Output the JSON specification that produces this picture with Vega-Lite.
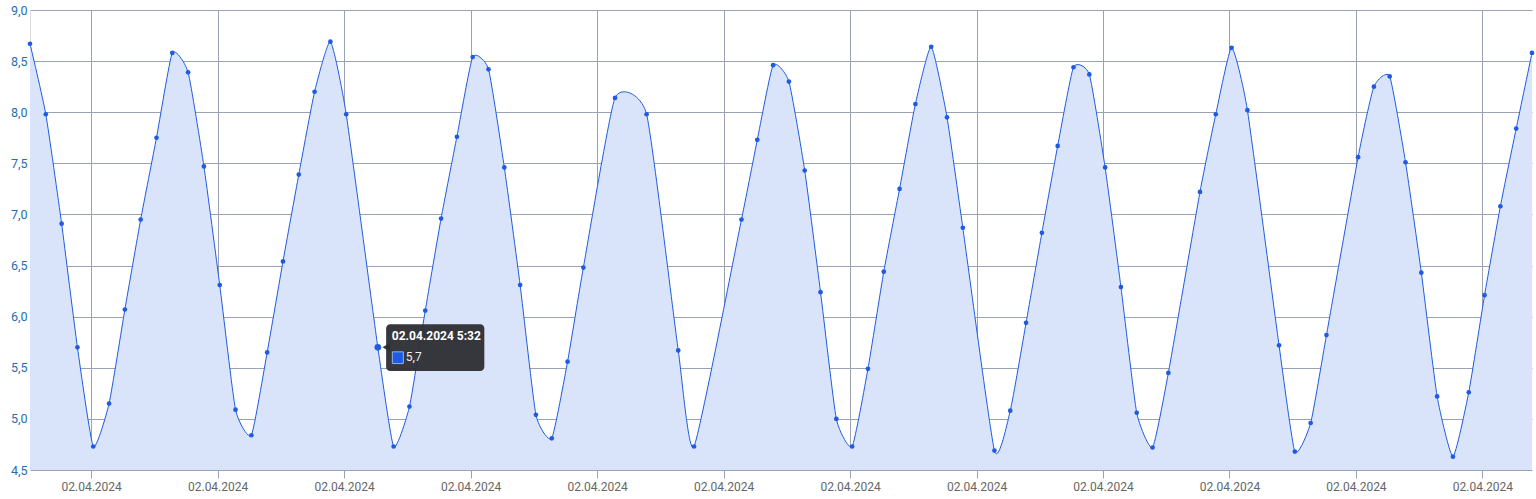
{
  "$schema": "https://vega.github.io/schema/vega-lite/v6.json",
  "width": 1502,
  "height": 460,
  "autosize": {"type": "none"},
  "padding": {"left": 30, "top": 10, "right": 4, "bottom": 29},
  "background": "#ffffff",
  "config": {
    "view": {"stroke": null},
    "font": "Roboto",
    "locale": {
      "number": {"decimal": ",", "thousands": ".", "grouping": [3], "currency": ["", " €"]},
      "time": {
        "dateTime": "%A, %e. %B %Y, %X", "date": "%d.%m.%Y", "time": "%H:%M:%S",
        "periods": ["AM", "PM"],
        "days": ["Sonntag", "Montag", "Dienstag", "Mittwoch", "Donnerstag", "Freitag", "Samstag"],
        "shortDays": ["So", "Mo", "Di", "Mi", "Do", "Fr", "Sa"],
        "months": ["Januar", "Februar", "März", "April", "Mai", "Juni", "Juli", "August", "September", "Oktober", "November", "Dezember"],
        "shortMonths": ["Jan", "Feb", "Mrz", "Apr", "Mai", "Jun", "Jul", "Aug", "Sep", "Okt", "Nov", "Dez"]
      }
    }
  },
  "datasets": {
    "series": [
      {"time": "2024-04-02T00:02:00", "value": 8.67},
      {"time": "2024-04-02T00:17:00", "value": 7.98},
      {"time": "2024-04-02T00:32:00", "value": 6.91},
      {"time": "2024-04-02T00:47:00", "value": 5.70},
      {"time": "2024-04-02T01:02:00", "value": 4.73},
      {"time": "2024-04-02T01:17:00", "value": 5.15},
      {"time": "2024-04-02T01:32:00", "value": 6.07},
      {"time": "2024-04-02T01:47:00", "value": 6.95},
      {"time": "2024-04-02T02:02:00", "value": 7.75},
      {"time": "2024-04-02T02:17:00", "value": 8.58},
      {"time": "2024-04-02T02:32:00", "value": 8.39},
      {"time": "2024-04-02T02:47:00", "value": 7.47},
      {"time": "2024-04-02T03:02:00", "value": 6.31},
      {"time": "2024-04-02T03:17:00", "value": 5.09},
      {"time": "2024-04-02T03:32:00", "value": 4.84},
      {"time": "2024-04-02T03:47:00", "value": 5.65},
      {"time": "2024-04-02T04:02:00", "value": 6.54},
      {"time": "2024-04-02T04:17:00", "value": 7.39},
      {"time": "2024-04-02T04:32:00", "value": 8.20},
      {"time": "2024-04-02T04:47:00", "value": 8.69},
      {"time": "2024-04-02T05:02:00", "value": 7.98},
      {"time": "2024-04-02T05:32:00", "value": 5.70},
      {"time": "2024-04-02T05:47:00", "value": 4.73},
      {"time": "2024-04-02T06:02:00", "value": 5.12},
      {"time": "2024-04-02T06:17:00", "value": 6.06},
      {"time": "2024-04-02T06:32:00", "value": 6.96},
      {"time": "2024-04-02T06:47:00", "value": 7.76},
      {"time": "2024-04-02T07:02:00", "value": 8.54},
      {"time": "2024-04-02T07:17:00", "value": 8.42},
      {"time": "2024-04-02T07:32:00", "value": 7.46},
      {"time": "2024-04-02T07:47:00", "value": 6.31},
      {"time": "2024-04-02T08:02:00", "value": 5.04},
      {"time": "2024-04-02T08:17:00", "value": 4.81},
      {"time": "2024-04-02T08:32:00", "value": 5.56},
      {"time": "2024-04-02T08:47:00", "value": 6.48},
      {"time": "2024-04-02T09:17:00", "value": 8.14},
      {"time": "2024-04-02T09:47:00", "value": 7.98},
      {"time": "2024-04-02T10:17:00", "value": 5.67},
      {"time": "2024-04-02T10:32:00", "value": 4.73},
      {"time": "2024-04-02T11:17:00", "value": 6.95},
      {"time": "2024-04-02T11:32:00", "value": 7.73},
      {"time": "2024-04-02T11:47:00", "value": 8.46},
      {"time": "2024-04-02T12:02:00", "value": 8.30},
      {"time": "2024-04-02T12:17:00", "value": 7.43},
      {"time": "2024-04-02T12:32:00", "value": 6.24},
      {"time": "2024-04-02T12:47:00", "value": 5.00},
      {"time": "2024-04-02T13:02:00", "value": 4.73},
      {"time": "2024-04-02T13:17:00", "value": 5.49},
      {"time": "2024-04-02T13:32:00", "value": 6.44},
      {"time": "2024-04-02T13:47:00", "value": 7.25},
      {"time": "2024-04-02T14:02:00", "value": 8.08},
      {"time": "2024-04-02T14:17:00", "value": 8.64},
      {"time": "2024-04-02T14:32:00", "value": 7.95},
      {"time": "2024-04-02T14:47:00", "value": 6.87},
      {"time": "2024-04-02T15:17:00", "value": 4.69},
      {"time": "2024-04-02T15:32:00", "value": 5.08},
      {"time": "2024-04-02T15:47:00", "value": 5.94},
      {"time": "2024-04-02T16:02:00", "value": 6.82},
      {"time": "2024-04-02T16:17:00", "value": 7.67},
      {"time": "2024-04-02T16:32:00", "value": 8.44},
      {"time": "2024-04-02T16:47:00", "value": 8.37},
      {"time": "2024-04-02T17:02:00", "value": 7.46},
      {"time": "2024-04-02T17:17:00", "value": 6.29},
      {"time": "2024-04-02T17:32:00", "value": 5.06},
      {"time": "2024-04-02T17:47:00", "value": 4.72},
      {"time": "2024-04-02T18:02:00", "value": 5.45},
      {"time": "2024-04-02T18:32:00", "value": 7.22},
      {"time": "2024-04-02T18:47:00", "value": 7.98},
      {"time": "2024-04-02T19:02:00", "value": 8.63},
      {"time": "2024-04-02T19:17:00", "value": 8.02},
      {"time": "2024-04-02T19:47:00", "value": 5.72},
      {"time": "2024-04-02T20:02:00", "value": 4.68},
      {"time": "2024-04-02T20:17:00", "value": 4.96},
      {"time": "2024-04-02T20:32:00", "value": 5.82},
      {"time": "2024-04-02T21:02:00", "value": 7.56},
      {"time": "2024-04-02T21:17:00", "value": 8.25},
      {"time": "2024-04-02T21:32:00", "value": 8.35},
      {"time": "2024-04-02T21:47:00", "value": 7.51},
      {"time": "2024-04-02T22:02:00", "value": 6.43},
      {"time": "2024-04-02T22:17:00", "value": 5.22},
      {"time": "2024-04-02T22:32:00", "value": 4.63},
      {"time": "2024-04-02T22:47:00", "value": 5.26},
      {"time": "2024-04-02T23:02:00", "value": 6.21},
      {"time": "2024-04-02T23:17:00", "value": 7.08},
      {"time": "2024-04-02T23:32:00", "value": 7.84},
      {"time": "2024-04-02T23:47:00", "value": 8.58}
    ],
    "hover": [
      {"time": "2024-04-02T05:32:00", "value": 5.7, "label": "02.04.2024 5:32"}
    ]
  },
  "encoding": {
    "x": {
      "field": "time",
      "type": "temporal",
      "scale": {
        "domain": [
          {"year": 2024, "month": 4, "date": 2, "hours": 0, "minutes": 2},
          {"year": 2024, "month": 4, "date": 2, "hours": 23, "minutes": 47}
        ],
        "nice": false
      },
      "axis": {
        "title": null,
        "values": [
          {"year": 2024, "month": 4, "date": 2, "hours": 1},
          {"year": 2024, "month": 4, "date": 2, "hours": 3},
          {"year": 2024, "month": 4, "date": 2, "hours": 5},
          {"year": 2024, "month": 4, "date": 2, "hours": 7},
          {"year": 2024, "month": 4, "date": 2, "hours": 9},
          {"year": 2024, "month": 4, "date": 2, "hours": 11},
          {"year": 2024, "month": 4, "date": 2, "hours": 13},
          {"year": 2024, "month": 4, "date": 2, "hours": 15},
          {"year": 2024, "month": 4, "date": 2, "hours": 17},
          {"year": 2024, "month": 4, "date": 2, "hours": 19},
          {"year": 2024, "month": 4, "date": 2, "hours": 21},
          {"year": 2024, "month": 4, "date": 2, "hours": 23}
        ],
        "format": "%d.%m.%Y",
        "grid": true,
        "gridColor": "#9aa1b3",
        "gridOpacity": 1,
        "gridWidth": 1,
        "domain": false,
        "ticks": true,
        "tickSize": 8,
        "tickColor": "#9aa1b3",
        "tickWidth": 1,
        "labelColor": "#666666",
        "labelFontSize": 12,
        "labelFont": "Roboto",
        "labelPadding": 3,
        "labelOverlap": false,
        "labelFlush": false
      }
    },
    "y": {
      "field": "value",
      "type": "quantitative",
      "scale": {"domain": [4.5, 9], "zero": false, "nice": false},
      "axis": {
        "title": null,
        "values": [4.5, 5, 5.5, 6, 6.5, 7, 7.5, 8, 8.5, 9],
        "format": ".1f",
        "grid": true,
        "gridColor": "#9aa1b3",
        "gridOpacity": 1,
        "gridWidth": 1,
        "domain": true,
        "domainColor": "#dddddd",
        "ticks": false,
        "labelColor": "#1f6db4",
        "labelFontSize": 12.5,
        "labelFont": "Roboto",
        "labelPadding": 3
      }
    }
  },
  "layer": [
    {
      "data": {"name": "series"},
      "mark": {"type": "area", "interpolate": "cardinal", "tension": 0.5, "fill": "#d9e4fb", "fillOpacity": 1},
      "encoding": {"y2": {"datum": 4.5}}
    },
    {
      "data": {"name": "series"},
      "mark": {"type": "line", "interpolate": "cardinal", "tension": 0.5, "stroke": "#1f5be0", "strokeWidth": 1}
    },
    {
      "data": {"name": "series"},
      "mark": {"type": "circle", "size": 22, "fill": "#1f5be0", "opacity": 1}
    },
    {
      "data": {"name": "hover"},
      "mark": {"type": "circle", "size": 44, "fill": "#1f5be0", "opacity": 1}
    },
    {
      "data": {"name": "hover"},
      "mark": {"type": "point", "shape": "triangle-left", "size": 80, "filled": true, "fill": "#2c2d31", "opacity": 0.95, "xOffset": 8.5}
    },
    {
      "data": {"name": "hover"},
      "mark": {"type": "rect", "fill": "#2c2d31", "opacity": 0.95, "cornerRadius": 4, "xOffset": 8.3, "x2Offset": 106.5, "yOffset": -23, "y2Offset": 23.7},
      "encoding": {"x2": {"field": "time"}, "y2": {"field": "value"}}
    },
    {
      "data": {"name": "hover"},
      "mark": {"type": "rect", "fill": "#1f5be0", "stroke": "#8fb0f5", "strokeWidth": 1, "xOffset": 14.5, "x2Offset": 25.5, "yOffset": 4.5, "y2Offset": 16.2},
      "encoding": {"x2": {"field": "time"}, "y2": {"field": "value"}}
    },
    {
      "data": {"name": "hover"},
      "mark": {"type": "text", "align": "left", "baseline": "alphabetic", "dx": 14, "dy": -7, "fontSize": 12, "fontWeight": "bold", "font": "Roboto", "fill": "#ffffff"},
      "encoding": {"text": {"field": "label"}}
    },
    {
      "data": {"name": "hover"},
      "mark": {"type": "text", "align": "left", "baseline": "alphabetic", "dx": 28, "dy": 13.7, "fontSize": 12, "font": "Roboto", "fill": "#eeeeee"},
      "encoding": {"text": {"field": "value", "type": "quantitative", "format": ".1f"}}
    }
  ]
}
